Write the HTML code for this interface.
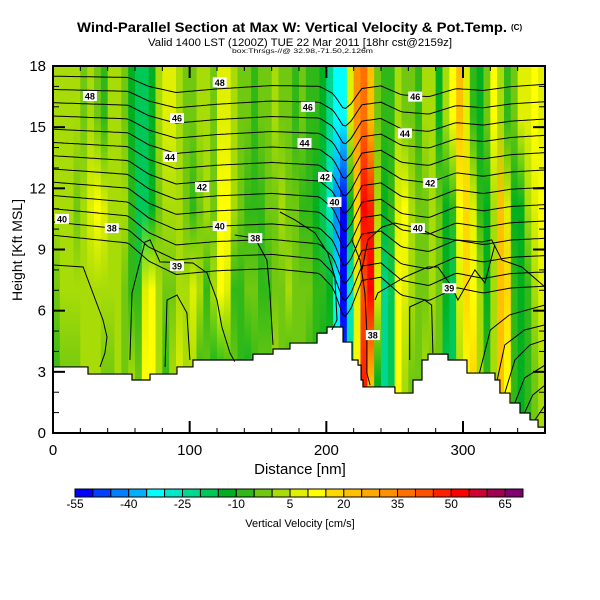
<!DOCTYPE html>
<html><head><meta charset="utf-8"><style>
html,body{margin:0;padding:0;background:#fff;}
svg{display:block;font-family:"Liberation Sans",sans-serif;}
</style></head><body>
<svg id="chart" width="600" height="600" viewBox="0 0 600 600" xmlns="http://www.w3.org/2000/svg">
<defs id="defs"><clipPath id="plotclip"><rect x="53" y="66" width="492" height="367"/></clipPath></defs>
<text x="77" y="32" font-size="14" font-weight="bold" textLength="430" lengthAdjust="spacingAndGlyphs">Wind-Parallel Section at Max W: Vertical Velocity &amp; Pot.Temp.</text>
<text x="511" y="30" font-size="8" font-weight="bold">(C)</text>
<text x="148" y="46" font-size="11" textLength="304" lengthAdjust="spacingAndGlyphs">Valid 1400 LST (1200Z) TUE 22 Mar 2011 [18hr cst@2159z]</text>
<text x="232" y="53" font-size="6" textLength="141" lengthAdjust="spacingAndGlyphs">box:Thrsgs-//@ 32.98,-71.50,2.126m</text>
<g id="heat" clip-path="url(#plotclip)"></g>
<g id="terrain"></g>
<g id="contours" clip-path="url(#plotclip)"></g>
<g id="clabels"></g>
<rect x="53" y="66" width="492" height="367" fill="none" stroke="#000" stroke-width="2"/>
<g id="axes"></g>
<text x="300" y="474" font-size="15" text-anchor="middle">Distance [nm]</text>
<text transform="translate(22,250) rotate(-90)" font-size="14" text-anchor="middle">Height [Kft MSL]</text>
<g id="cbar"></g>
<text x="300" y="527" font-size="11" text-anchor="middle">Vertical Velocity [cm/s]</text>
</svg>
<script>
const NS="http://www.w3.org/2000/svg";
const colStep=5;
const bandCenters=[2.5,7,11,15.5];
const wLow=[-5,0,0,0,5,5,5,0,0,5, 0,5,0,15,15,5,-5,5,10,5, 5,-5,0,-10,-10,-5,0,-5,-10,-5, 0,0,5,0,-5,0,0,-5,-5,-10,
 -5,-25,-45,-20,15,50,25,-10,-20,-15, 15,5,0,0,5,0,0,-15,-15,5, 15,20,5,-5,5,25,15,-5,-10,-5,0,5];
const wMid=[0,5,5,5,5,5,5,5,5,5, 0,-5,-5,10,15,5,0,0,5,5, 10,5,-5,5,15,10,-5,-5,0,0, -5,-5,0,0,5,0,0,0,-5,-5,
 -10,-30,-50,-25,10,45,55,10,-20,-15, 15,10,5,0,0,5,0,-10,-15,10, 20,15,5,-10,5,25,20,-5,-10,-5,5,10];
const wUpMid=[5,5,5,0,5,10,15,10,5,5, 5,-5,-15,-15,-10,0,5,5,5,0, -5,0,5,0,15,15,5,0,-5,-5, -5,0,0,5,0,0,-5,-5,-10,-15,
 -25,-40,-50,-10,20,55,50,5,-10,-5, 10,15,5,0,0,5,0,-10,-5,15, 20,10,-5,-10,5,25,10,-10,-10,5,10,15];
const wTop=[5,5,5,5,0,5,0,-5,5,5, 0,-10,-15,-15,-10,5,10,10,5,0, 0,5,5,0,10,10,5,0,0,-5, 0,0,5,0,0,-5,0,-5,-5,-10,
 -20,-30,-30,10,35,40,25,0,-5,-5, 5,0,0,-5,5,5,-10,5,15,25, 10,-5,-10,0,15,5,-5,0,10,10,15,10];
const bands=[wLow,wMid,wUpMid,wTop];
const palette=["#0000ff","#0040ff","#0080ff","#00b0ff","#00ffff","#00e8c8","#00d890","#00c858","#00b020","#30b818","#70c810","#a8dc08","#e0f000","#ffff00","#ffd800","#ffc000","#ffa800","#ff9000","#ff7000","#ff5000","#ff2000","#ff0000","#d00030","#a00050","#800070"];
const cbarLabels=["-55","-40","-25","-10","5","20","35","50","65"];
const xTicks=[0,100,200,300];
const yTicks=[0,3,6,9,12,15,18];
const terrainX=[0,25.6,57.8,71,90.7,102.4,146.3,161,173.4,193.2,200.5,212.2,218.8,223.2,225.4,226.8,250.2,263.4,270,274.4,289,302.9,323.4,327,334.4,341.7,349,354.9,360];
const terrainH=[3.24,2.89,2.6,2.89,3.24,3.58,3.87,4.12,4.41,4.9,5.2,4.46,3.58,3.33,2.6,2.26,1.96,2.6,3.58,3.87,3.58,2.94,2.6,1.96,1.47,0.98,0.64,0.29];
const thetaLeft=[17.5,16.85,16.2,15.55,14.9,14.25,13.6,12.95,12.3,11.65,11.0,10.35,9.7];
const thetaRight=[17.1,16.25,15.4,14.6,13.75,12.9,12.05,11.2,10.4,9.55,8.7,7.9,7.2];
const dispX=[0,55,70,90,120,160,195,205,213,218,226,240,255,275,295,315,335,360];
const dispD=[0,0,-0.6,-1.0,-0.7,-0.4,-0.4,-0.9,-2.0,-1.6,-0.5,-0.3,-0.9,-1.0,-0.4,-0.5,-0.2,0];
const lowContours=[
 [[0,8.24],[22,8.14],[36.6,5.54],[39.5,4.71],[38,3.92],[34.4,3.24]],
 [[56.3,3.58],[57.8,6.87],[67.3,9.37],[71,9.47],[78.3,8.39],[102.4,8.34],[112.7,7.85],[120,6.52],[123.6,5.2],[129.5,3.92],[133,3.5]],
 [[82,3.24],[83.4,6.52],[90.7,6.77],[98,5.89],[100.2,3.58]],
 [[133,9.71],[147.8,9.56],[156.5,8.48],[158.7,6.87],[160.2,5.2],[161,4.32]],
 [[166,10.84],[177,10.45],[191.7,9.81],[201,8.83],[206.3,7.65],[207.8,5.54],[204,5.05]],
 [[218.7,9.47],[224.6,8.48],[228.2,6.87],[229.7,4.9],[229.7,2.94],[232,2.35]],
 [[226,8],[230.4,9.47],[240.7,10.1],[250,10.3],[267,10.05],[281.6,9.61],[294,9.47],[313.8,9.37],[321,9.47],[328.5,8.48],[343,8.14],[360,7.16]],
 [[235.6,6.52],[237.7,6.87],[257.5,7.65],[274.3,8.14],[281.6,8.14],[292,7.16],[296.3,6.52],[308.7,8],[316,7.36],[323.3,9.22]],
 [[261,3.58],[261,6.18],[272,6.52],[277,6.28],[278,3.92]],
 [[312,2.94],[320,5.05],[334,5.79],[360,6.28]],
 [[325,2.6],[330.6,4.32],[345,5.05],[360,5.3]],
 [[330.6,1.96],[338,3.58],[349,4.32],[360,4.56]],
 [[338,1.47],[345,2.7],[360,3.33]],
 [[345,0.98],[351,1.86],[360,2.35]],
 [[352.6,0.64],[360,1.37]]
];
const labelText=["48","46","48","44","42","40","38","40","38","39","46","44","42","40","46","44","42","40","39","38"];
const labelX=[27,90.7,122,85.6,109,6.6,43,122,148,90.7,186.5,184,199,206,265,257.5,276,267,290,234];
const labelY=[16.53,15.45,17.2,13.54,12.06,10.5,10.05,10.15,9.56,8.2,16,14.22,12.56,11.33,16.5,14.7,12.26,10.05,7.1,4.8];

const X0=53,X1=545,Y0=433,Y1=66;
const sx=nm=>X0+nm*(X1-X0)/360;
const sy=km=>Y0-km*(Y0-Y1)/18;
function colorFor(v){let k=Math.floor((v+52.5)/5);k=Math.max(0,Math.min(24,k));return palette[k];}
function mk(tag,attrs,parent){const e=document.createElementNS(NS,tag);for(const a in attrs)e.setAttribute(a,attrs[a]);parent.appendChild(e);return e;}

const defs=document.getElementById('defs');
const heat=document.getElementById('heat');
const ncol=wLow.length;
for(let i=0;i<ncol;i++){
  const g=mk('linearGradient',{id:'cg'+i,x1:0,y1:1,x2:0,y2:0},defs);
  bands.forEach((arr,b)=>{
    mk('stop',{offset:(bandCenters[b]/18).toFixed(3),'stop-color':colorFor(arr[i])},g);
  });
  const x=sx(i*colStep),w=sx((i+1)*colStep)-x;
  const r=mk('rect',{x:x.toFixed(2),y:Y1,width:(w+0.6).toFixed(2),height:Y0-Y1,fill:'url(#cg'+i+')'},heat);
  
  
}

const ter=document.getElementById('terrain');
let d="M"+sx(0)+","+sy(0);
for(let i=0;i<terrainH.length;i++){d+=" L"+sx(terrainX[i]).toFixed(2)+","+sy(terrainH[i]).toFixed(2)+" L"+sx(terrainX[i+1]).toFixed(2)+","+sy(terrainH[i]).toFixed(2);}
d+=" L"+sx(360)+","+sy(0)+" Z";
const tp=mk('path',{d:d,fill:"#fff",stroke:"#000","stroke-width":"1.2"},ter);



function interp(xs,ys,x){if(x<=xs[0])return ys[0];for(let i=1;i<xs.length;i++){if(x<=xs[i]){const t=(x-xs[i-1])/(xs[i]-xs[i-1]);return ys[i-1]+t*(ys[i]-ys[i-1]);}}return ys[ys.length-1];}
const cg=document.getElementById('contours');
const n=thetaLeft.length;
for(let i=0;i<n;i++){
  const s=0.7+0.6*i/(n-1);
  let pts=[];
  for(let x=0;x<=360;x+=2){
    const base=thetaLeft[i]+(thetaRight[i]-thetaLeft[i])*x/360;
    const km=base+interp(dispX,dispD,x)*s;
    pts.push(sx(x).toFixed(1)+","+sy(km).toFixed(1));
  }
  const pl=mk('polyline',{points:pts.join(" "),fill:"none",stroke:"#000","stroke-width":"1"},cg);
  
  
}
lowContours.forEach(c=>{
  const pl=mk('polyline',{points:c.map(p=>sx(p[0]).toFixed(1)+","+sy(p[1]).toFixed(1)).join(" "),fill:"none",stroke:"#000","stroke-width":"1"},cg);
  
  
});
const lg=document.getElementById('clabels');
labelText.forEach((t,i)=>{
  const x=sx(labelX[i]),y=sy(labelY[i]);
  const r=mk('rect',{x:(x-7).toFixed(1),y:(y-5).toFixed(1),width:14,height:10,fill:"#fff"},lg);
  
  
  const tx=mk('text',{x:x.toFixed(1),y:(y+3.5).toFixed(1),"font-size":"9","font-weight":"bold","text-anchor":"middle"},lg);
  tx.textContent=t;
  
  
});

const ax=document.getElementById('axes');
for(let nm=0;nm<=360;nm+=20){
  const major=nm%100===0,len=major?12:5,x=sx(nm);
  const t1=mk('line',{x1:x,y1:Y0,x2:x,y2:Y0-len,stroke:"#000","stroke-width":major?2:1},ax);
  
  
  const t2=mk('line',{x1:x,y1:Y1,x2:x,y2:Y1+len,stroke:"#000","stroke-width":major?2:1},ax);
  
  
}
for(let km=0;km<=18;km++){
  const major=km%3===0,len=major?12:6,y=sy(km);
  const t1=mk('line',{x1:X0,y1:y,x2:X0+len,y2:y,stroke:"#000","stroke-width":major?2:1},ax);
  
  
  const t2=mk('line',{x1:X1,y1:y,x2:X1-len,y2:y,stroke:"#000","stroke-width":major?2:1},ax);
  
  
}
xTicks.forEach(v=>{
  const t=mk('text',{x:sx(v),y:455,"font-size":"15","text-anchor":"middle"},ax);
  t.textContent=v;
  
  
});
yTicks.forEach(v=>{
  const t=mk('text',{x:46,y:sy(v)+5,"font-size":"15","text-anchor":"end"},ax);
  t.textContent=v;
  
  
});

const cb=document.getElementById('cbar');
const cw=448/palette.length;
palette.forEach((c,i)=>{
  const r=mk('rect',{x:(75+i*cw).toFixed(2),y:489,width:cw.toFixed(2),height:8,fill:c,stroke:"#000","stroke-width":"1"},cb);
  
  
});
cbarLabels.forEach((t,i)=>{
  const tx=mk('text',{x:(75+i*3*cw).toFixed(1),y:508,"font-size":"12","text-anchor":"middle"},cb);
  tx.textContent=t;
  
  
});
</script>
</body></html>
